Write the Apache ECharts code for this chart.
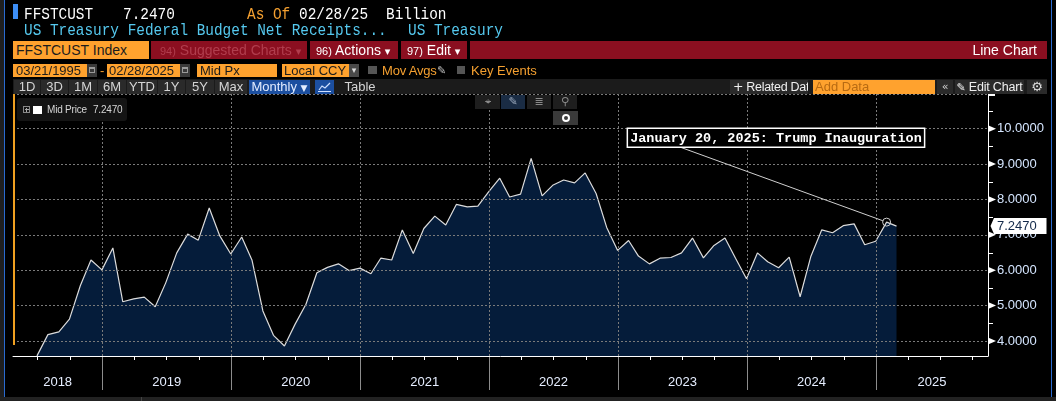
<!DOCTYPE html>
<html><head><meta charset="utf-8">
<script src="https://cdn.jsdelivr.net/npm/echarts@6.0.0/dist/echarts.min.js"></script>
<style>
html,body{margin:0;padding:0;background:#000;}
body{width:1056px;height:401px;overflow:hidden;position:relative;font-family:"Liberation Sans",Arial,sans-serif;}
#chart{position:absolute;left:0;top:0;width:1056px;height:401px;}
.a{position:absolute;white-space:pre;box-sizing:border-box;}
.mono{font-family:"Liberation Mono","DejaVu Sans Mono",monospace;font-size:14.4px;line-height:16px;transform:scaleY(1.15);transform-origin:0 11.8px;}
.or{background:#ffa22e;color:#1c1c1c;}
.red{background:#8b0f20;height:18px;top:41px;font-size:14px;line-height:18px;}
.sm{font-size:11px;}
.r4{top:64px;height:13px;font-size:13px;line-height:13px;}
.btn{top:80px;height:14px;background:#2a2a2a;color:#d4d4d4;font-size:13px;line-height:14px;text-align:center;overflow:hidden;}
.ic{font-family:"DejaVu Sans",sans-serif;}
</style></head><body>
<div id="chart"></div>

<!-- frame -->
<div class="a" style="left:0;top:0;width:4px;height:397px;background:#1f1f1f"></div>
<div class="a" style="left:4px;top:0;width:1px;height:397px;background:#2a6bd0"></div>
<div class="a" style="left:1051px;top:0;width:1px;height:397px;background:#2a6bd0"></div>
<div class="a" style="left:0;top:397px;width:1056px;height:4px;background:#222"></div>
<div class="a" style="left:141px;top:397px;width:1px;height:4px;background:#444"></div>

<!-- row 1 -->
<div class="a" style="left:13px;top:4px;width:5px;height:15px;background:#3d8ef5"></div>
<div class="a mono" style="left:24px;top:6.5px;color:#fff">FFSTCUST</div>
<div class="a mono" style="left:123px;top:6.5px;color:#fff">7.2470</div>
<div class="a mono" style="left:247px;top:6.5px;color:#f5a030">As Of</div>
<div class="a mono" style="left:299px;top:6.5px;color:#fff">02/28/25</div>
<div class="a mono" style="left:386px;top:6.5px;color:#fff">Billion</div>
<!-- row 2 -->
<div class="a mono" style="left:24px;top:22.5px;color:#55c8ee">US Treasury Federal Budget Net Receipts...</div>
<div class="a mono" style="left:408px;top:22.5px;color:#55c8ee">US Treasury</div>

<!-- row 3 -->
<div class="a or" style="left:13px;top:41px;width:136px;height:18px;font-size:14px;line-height:18px;padding-left:3px">FFSTCUST Index</div>
<div class="a red" style="left:151px;width:156px;color:#b13d4d;padding-left:9px"><span class="sm">94)</span> Suggested Charts <span class="ic sm">▾</span></div>
<div class="a red" style="left:310px;width:88px;color:#fff;padding-left:6px"><span class="sm">96)</span> Actions <span class="ic sm">▾</span></div>
<div class="a red" style="left:401px;width:66px;color:#fff;padding-left:6px"><span class="sm">97)</span> Edit <span class="ic sm">▾</span></div>
<div class="a red" style="left:470px;width:577px;color:#fff;text-align:right;padding-right:10px">Line Chart</div>

<!-- row 4 -->
<div class="a or r4" style="left:13px;width:74px;padding-left:3px">03/21/1995</div>
<div class="a r4" style="left:87px;width:10px;background:#3a3a3a"><div class="a" style="left:2px;top:3px;width:6px;height:6px;border:1px solid #9a9a9a;border-top-width:2px"></div></div>
<div class="a r4" style="left:100px;color:#f5a030">-</div>
<div class="a or r4" style="left:107px;width:73px;padding-left:2px">02/28/2025</div>
<div class="a r4" style="left:180px;width:10px;background:#3a3a3a"><div class="a" style="left:2px;top:3px;width:6px;height:6px;border:1px solid #9a9a9a;border-top-width:2px"></div></div>
<div class="a or r4" style="left:197px;width:80px;padding-left:3px">Mid Px</div>
<div class="a or r4" style="left:282px;width:67px;padding-left:2px">Local CCY</div>
<div class="a r4 ic" style="left:349px;width:10px;background:#4a4a4a;color:#ddd;font-size:9px;text-align:center">▾</div>
<div class="a" style="left:368px;top:66px;width:9px;height:8px;background:#555"></div>
<div class="a r4" style="left:382px;color:#f5a030;letter-spacing:-0.2px">Mov Avgs</div>
<div class="a r4 ic" style="left:437px;color:#bbb;font-size:11px">✎</div>
<div class="a" style="left:457px;top:66px;width:8px;height:8px;background:#555"></div>
<div class="a r4" style="left:471px;color:#f5a030">Key Events</div>

<!-- row 5 -->
<div class="a" style="left:13px;top:79px;width:1034px;height:15px;background:#1b1b1b"></div>
<div class="a btn" style="left:14px;width:26px">1D</div>
<div class="a btn" style="left:41px;width:27px">3D</div>
<div class="a btn" style="left:69px;width:28px">1M</div>
<div class="a btn" style="left:98px;width:28px">6M</div>
<div class="a btn" style="left:127px;width:30px">YTD</div>
<div class="a btn" style="left:158px;width:27px">1Y</div>
<div class="a btn" style="left:186px;width:28px">5Y</div>
<div class="a btn" style="left:215px;width:32px">Max</div>
<div class="a btn" style="left:249px;width:61px;background:#1c4fa0;color:#e2ecff">Monthly <span class="ic" style="font-size:9px">▼</span></div>
<div class="a btn" style="left:315px;width:19px;background:#1c4fa0">
<svg width="19" height="14" style="position:absolute;left:0;top:0"><polyline points="4,10 7,6 10,8 15,3" fill="none" stroke="#cfe0ff" stroke-width="1.2"/><line x1="3" y1="11.5" x2="16" y2="11.5" stroke="#cfe0ff" stroke-width="1"/></svg></div>
<div class="a btn" style="left:340px;width:40px;background:transparent">Table</div>
<div class="a btn" style="left:730px;width:78px;color:#f0f0f0;font-size:12.5px;letter-spacing:-0.3px;text-align:left;padding-left:3px"><span class="ic">+</span> Related Dat.</div>
<div class="a btn" style="left:813px;width:122px;background:#ffa22e;color:#b86a12;text-align:left;padding-left:2px">Add Data</div>
<div class="a btn ic" style="left:937px;width:16px;font-size:11px">«</div>
<div class="a btn" style="left:955px;width:69px;color:#f0f0f0;font-size:12.5px;letter-spacing:-0.2px"><span class="ic" style="font-size:11px">✎</span> Edit Chart</div>
<div class="a btn ic" style="left:1027px;width:20px;font-size:13px;color:#ddd">⚙</div>

<!-- orange left bar -->
<div class="a" style="left:13px;top:94px;width:2px;height:251px;background:#f0a020"></div>

<!-- legend -->
<div class="a" style="left:17px;top:98px;width:110px;height:23px;background:#141414;border-radius:3px"></div>
<div class="a" style="left:23px;top:106px;width:7px;height:7px;border:1px solid #888"></div>
<div class="a" style="left:24.5px;top:109px;width:4px;height:1px;background:#aaa"></div>
<div class="a" style="left:26px;top:107.5px;width:1px;height:4px;background:#aaa"></div>
<div class="a" style="left:33px;top:106px;width:9px;height:8px;background:#fff"></div>
<div class="a" style="left:47px;top:103px;font-size:10px;letter-spacing:-0.2px;line-height:14px;color:#d6d6d6">Mid Price</div>
<div class="a" style="left:93px;top:103px;font-size:10px;letter-spacing:-0.2px;line-height:14px;color:#d6d6d6">7.2470</div>

<!-- chart toolbar -->
<div class="a ic" style="left:475px;top:95px;width:25px;height:14px;background:#1e1e1e;color:#8a8a8a;font-size:11px;line-height:14px;text-align:center">⌖</div>
<div class="a ic" style="left:501px;top:95px;width:24px;height:14px;background:#1a2c44;color:#9aa8bb;font-size:11px;line-height:14px;text-align:center">✎</div>
<div class="a ic" style="left:527px;top:95px;width:24px;height:14px;background:#1e1e1e;color:#8a8a8a;font-size:11px;line-height:14px;text-align:center">≣</div>
<div class="a ic" style="left:553px;top:95px;width:24px;height:14px;background:#1e1e1e;color:#8a8a8a;font-size:11px;line-height:14px;text-align:center">⚲</div>
<div class="a" style="left:553px;top:110.5px;width:25px;height:14.5px;background:#3a3a3a"><div class="a" style="left:8.5px;top:3.5px;width:8px;height:8px;border:2px solid #fff;border-radius:50%"></div></div>

<script>
// ---- data ----
const firstMonth = { year: 2018, month: 6 };   // June 2018 (month-end observations)
const receipts = [
  3.58, 4.18, 4.26, 4.62, 5.57, 6.29, 6.01,
  6.63, 5.11, 5.19, 5.24, 4.97, 5.65, 6.49, 7.02, 6.85, 7.76, 6.97, 6.46,
  6.94, 6.29, 4.85, 4.16, 3.86, 4.47, 5.04, 5.93, 6.08, 6.18, 5.99, 6.06,
  5.90, 6.34, 6.29, 7.14, 6.47, 7.18, 7.53, 7.28, 7.86, 7.79, 7.81, 8.22,
  8.60, 8.07, 8.15, 9.16, 8.10, 8.40, 8.55, 8.47, 8.75, 8.17, 7.21, 6.56,
  6.84, 6.40, 6.18, 6.34, 6.36, 6.49, 6.91, 6.35, 6.70, 6.91, 6.34, 5.76,
  6.49, 6.24, 6.07, 6.37, 5.25, 6.38, 7.14, 7.06, 7.26, 7.31, 6.72, 6.82,
  7.36, 7.247
];
const months = receipts.map((_, i) => Date.UTC(firstMonth.year, firstMonth.month + i, 0));
const yTickValues = [4, 5, 6, 7, 8, 9, 10];
const yMinorValues = [4.5, 5.5, 6.5, 7.5, 8.5, 9.5, 10.5];
const yearLabels = ['2018', '2019', '2020', '2021', '2022', '2023', '2024', '2025'];
const annotation = { text: 'January 20, 2025: Trump Inauguration', date: Date.UTC(2025, 0, 31), value: 7.36 };
const lastValue = 7.2470;

// ---- view ----
const DAY = 864e5;
const X_MIN = Date.UTC(2019, 0, 1) - 252.9 * DAY;
const X_MAX = Date.UTC(2025, 0, 1) + 317.2 * DAY;
const Y_MIN = 3.576, Y_MAX = 10.981;
const yearStarts = yearLabels.map(y => Date.UTC(+y, 0, 1)).filter(t => t > X_MIN && t < X_MAX);

const chart = echarts.init(document.getElementById('chart'), null, { renderer: 'canvas' });
const gridColor = '#7a7a7a';
chart.setOption({
  backgroundColor: '#000',
  animation: false,
  grid: { left: 13, right: 68, top: 94, bottom: 45, containLabel: false },
  xAxis: {
    type: 'time', min: X_MIN, max: X_MAX,
    axisLine: { show: true, onZero: false, lineStyle: { color: '#ffffff', width: 1 } },
    axisTick: { show: false }, axisLabel: { show: false }, splitLine: { show: false }
  },
  yAxis: {
    type: 'value', position: 'right', min: Y_MIN, max: Y_MAX,
    axisLine: { show: true, lineStyle: { color: '#ffffff', width: 1 } },
    axisTick: { show: false }, splitLine: { show: false },
    axisLabel: {
      customValues: yTickValues, showMinLabel: true, showMaxLabel: true,
      formatter: v => Number(v).toFixed(4), color: '#d5e6ff',
      fontSize: 13, fontFamily: 'Liberation Sans', margin: 9
    }
  },
  series: [{
    type: 'line', name: 'Mid Price',
    data: months.map((t, i) => [t, receipts[i]]),
    showSymbol: false, clip: true,
    lineStyle: { color: '#dcdcdc', width: 1.2 },
    areaStyle: { color: '#051c3a', opacity: 1, origin: 'start' },
    markLine: {
      silent: true, symbol: ['none', 'none'], label: { show: false }, animation: false,
      lineStyle: { color: gridColor, type: [2, 2], width: 1 },
      emphasis: { disabled: true },
      data: [...yTickValues.map(v => ({ yAxis: v })), ...yearStarts.map(t => ({ xAxis: t }))]
    }
  }]
});

const px = (t, v) => chart.convertToPixel({ seriesIndex: 0 }, [t, v]);
const [gl, gb] = px(X_MIN, Y_MIN);
const [gr, gt] = px(X_MAX, Y_MAX);
const r5 = v => Math.round(v) + 0.5;
const g = [];
const font13 = '13px "Liberation Sans", Arial, sans-serif';

// top dashed border
g.push({ type: 'line', shape: { x1: gl, y1: r5(gt), x2: gr, y2: r5(gt) }, style: { stroke: gridColor, lineDash: [2, 2], lineWidth: 1 }, silent: true });
// year labels centered in visible segments
yearLabels.forEach(y => {
  const s = Math.max(Date.UTC(+y, 0, 1), X_MIN), e = Math.min(Date.UTC(+y + 1, 0, 1), X_MAX);
  const cx = (px(s, Y_MIN)[0] + px(e, Y_MIN)[0]) / 2;
  g.push({ type: 'text', x: cx, y: gb + 26, silent: true,
    style: { text: y, font: font13, fill: '#e6eeff', align: 'center', verticalAlign: 'middle', textAlign: 'center', textVerticalAlign: 'middle' } });
});
// year separators below axis
yearStarts.forEach(t => {
  const x = r5(px(t, Y_MIN)[0]);
  g.push({ type: 'line', shape: { x1: x, y1: gb, x2: x, y2: gb + 34 }, style: { stroke: '#8c8c8c', lineWidth: 1 }, silent: true });
});
// quarterly ticks
for (let y = 2018; y <= 2025; y++) [3, 6, 9].forEach(m => {
  const t = Date.UTC(y, m, 1);
  if (t > X_MIN && t < X_MAX) {
    const x = r5(px(t, Y_MIN)[0]);
    g.push({ type: 'line', shape: { x1: x, y1: gb, x2: x, y2: gb + 4 }, style: { stroke: '#ffffff', lineWidth: 1 }, silent: true });
  }
});
// y major tick triangles and minor ticks
yTickValues.forEach(v => {
  const y = px(X_MAX, v)[1];
  g.push({ type: 'polygon', shape: { points: [[gr, y - 3.5], [gr + 8, y], [gr, y + 3.5]] }, style: { fill: '#ffffff' }, silent: true });
});
yMinorValues.forEach(v => {
  const y = r5(px(X_MAX, v)[1]);
  g.push({ type: 'line', shape: { x1: gr, y1: y, x2: gr + 5, y2: y }, style: { stroke: '#ffffff', lineWidth: 1 }, silent: true });
});
g.push({ type: 'rect', shape: { x: gr, y: gt, width: 7, height: 2 }, style: { fill: '#ffffff' }, silent: true });

// annotation
const [ax, ay] = px(annotation.date, annotation.value);
const bx = ax - 259.3, by = ay - 93.8, bw = 297.3, bh = 19;
const lx = ax - 206, ly = by + bh;
const dx = ax - lx, dy = ay - ly, dl = Math.hypot(dx, dy);
g.push({ type: 'line', z: 100, shape: { x1: lx, y1: ly, x2: ax - dx / dl * 4, y2: ay - dy / dl * 4 }, style: { stroke: '#d0d0d0', lineWidth: 1 }, silent: true });
g.push({ type: 'circle', z: 100, shape: { cx: ax, cy: ay, r: 4 }, style: { stroke: '#d0d0d0', fill: 'none', lineWidth: 1 }, silent: true });
g.push({ type: 'rect', z: 100, shape: { x: bx, y: by, width: bw, height: bh }, style: { fill: '#000', stroke: '#ffffff', lineWidth: 1.5 }, silent: true });
g.push({ type: 'text', z: 101, x: bx + bw / 2, y: by + bh / 2 + 0.5, silent: true,
  style: { text: annotation.text, font: 'bold 13.5px "Liberation Mono", "DejaVu Sans Mono", monospace', fill: '#ffffff',
    align: 'center', verticalAlign: 'middle', textAlign: 'center', textVerticalAlign: 'middle' } });

// last price tag
const py = px(months[months.length - 1], lastValue)[1];
g.push({ type: 'polygon', z: 100, shape: { points: [[gr + 2.5, py], [gr + 6, py - 8], [gr + 58.5, py - 8], [gr + 58.5, py + 8], [gr + 6, py + 8]] }, style: { fill: '#ffffff' }, silent: true });
g.push({ type: 'text', z: 101, x: gr + 9, y: py + 0.5, silent: true,
  style: { text: lastValue.toFixed(4), font: font13, fill: '#13294a', align: 'left', verticalAlign: 'middle', textAlign: 'left', textVerticalAlign: 'middle' } });

chart.setOption({ graphic: { elements: g } });
</script>
</body></html>
